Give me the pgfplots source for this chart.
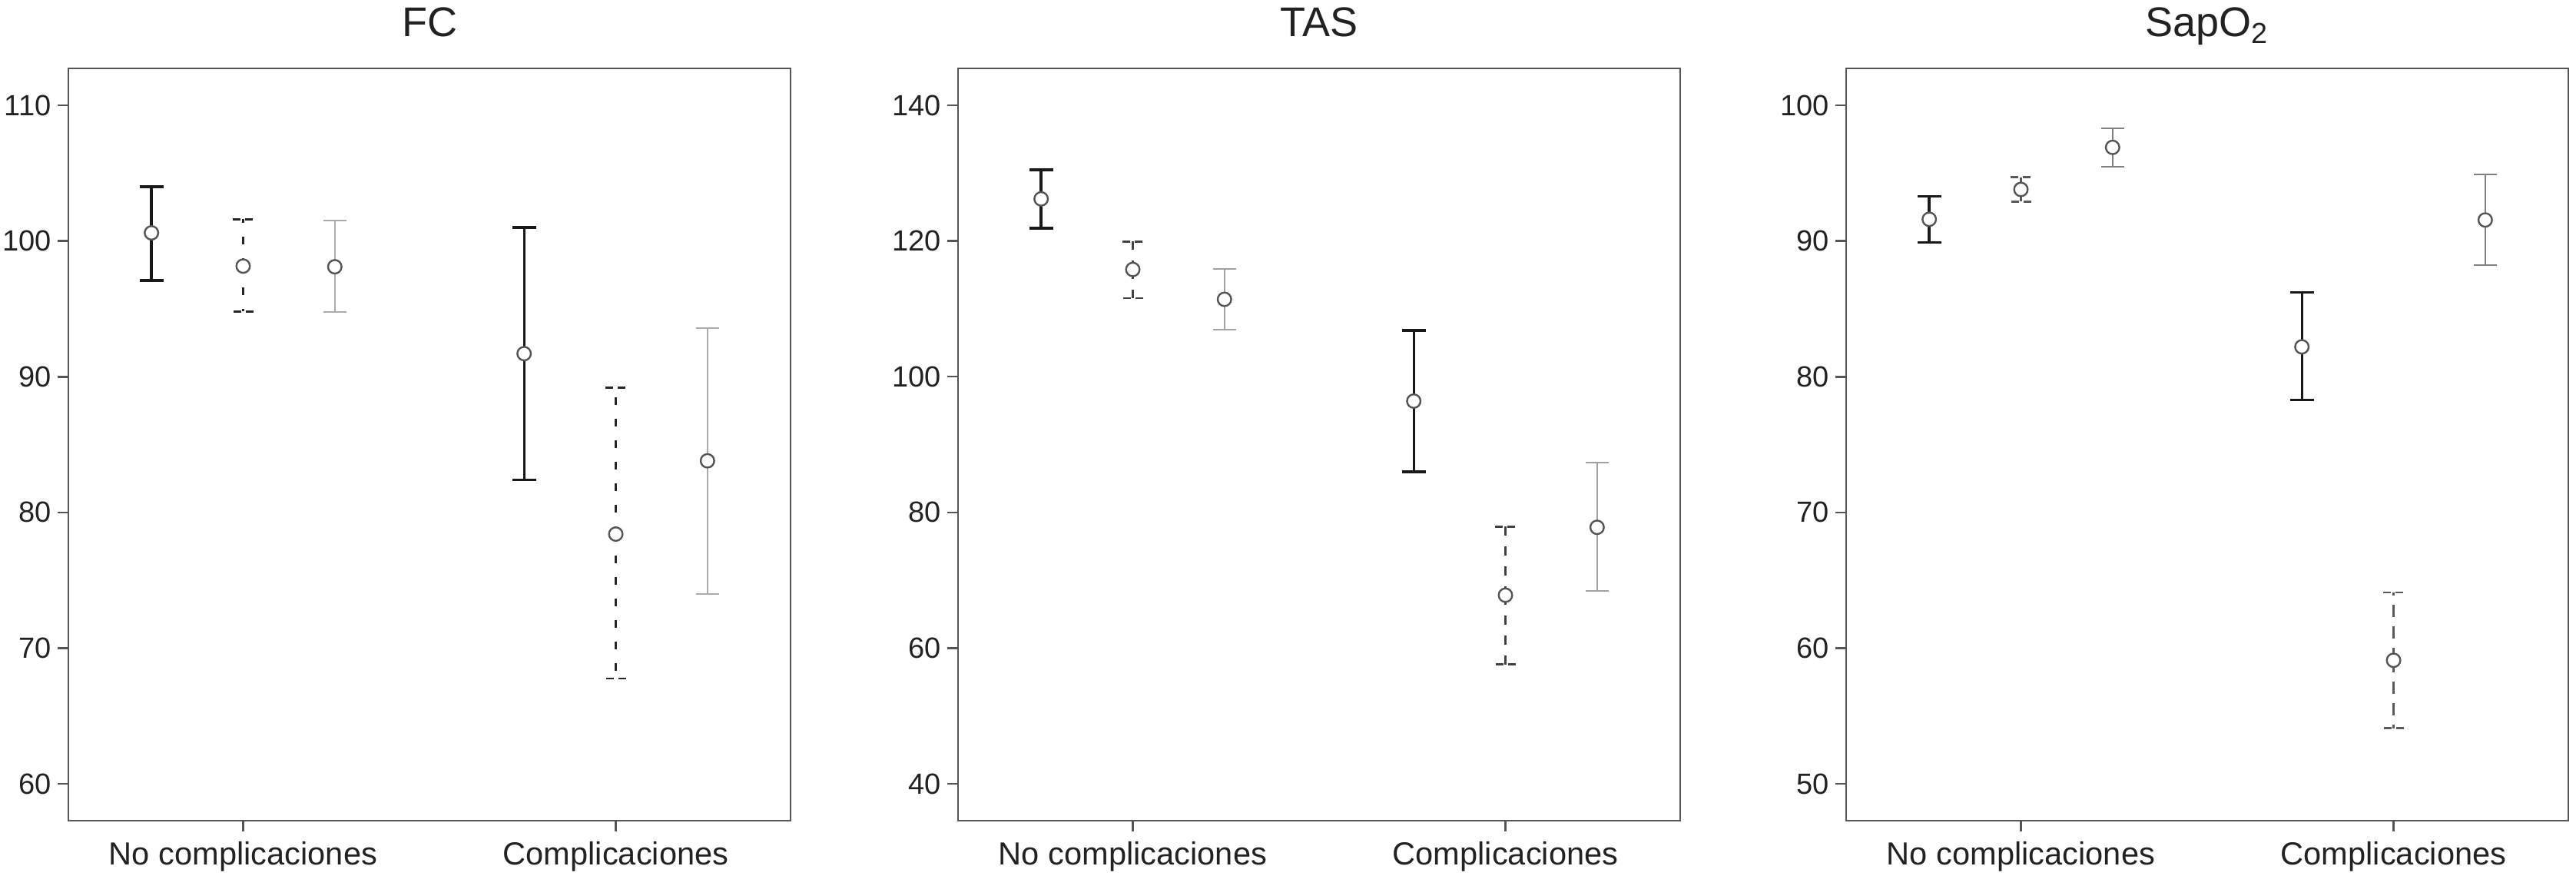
\documentclass[border=0pt]{standalone}
\usepackage{fontspec}
\setmainfont{Liberation Sans}
\usepackage{pgfplots}
\pgfplotsset{compat=1.18}

\definecolor{axisgray}{HTML}{555555}
\definecolor{txt}{HTML}{222222}

\pgfplotsset{
  panel/.style={
    scale only axis,
    width=235pt, height=244.75pt,
    xmin=-0.469, xmax=1.469,
    xtick={0,1},
    xticklabels={No complicaciones, Complicaciones},
    tick align=outside,
    major tick length=3.4pt,
    xtick pos=bottom, ytick pos=left,
    axis line style={draw=axisgray, line width=0.65pt},
    tick style={draw=axisgray, line width=0.65pt},
    xticklabel style={font=\fontsize{10.4}{12}\selectfont, text=txt},
    yticklabel style={font=\fontsize{9.5}{11}\selectfont, text=txt, xshift=1.3pt},
    /pgf/number format/assume math mode=true,
    every axis title shift=0pt,
    title style={at={(0.5,1)}, anchor=base, yshift=10.4pt,
                 font=\fontsize{13.5}{15}\selectfont, text=txt},
    clip=false,
  },
  meanmark/.style={only marks, mark=*,
    mark options={solid, fill=white, draw=axisgray, line width=0.6pt, mark size=2.2pt}},
  s1/.style={meanmark,
    error bars/.cd, y dir=both, y explicit,
    error bar style={draw=#1, line width=0.85pt},
    error mark options={rotate=90, draw=#1, line width=0.85pt, mark size=3.85pt}},
  s2/.style 2 args={meanmark,
    error bars/.cd, y dir=both, y explicit,
    error bar style={draw=#1, line width=0.6pt, dash pattern=#2},
    error mark options={rotate=90, draw=#1, line width=0.6pt, mark size=3.4pt, dash pattern=on 2.6pt off 1.4pt}},
  s3/.style={meanmark,
    error bars/.cd, y dir=both, y explicit,
    error bar style={draw=#1, line width=0.5pt},
    error mark options={rotate=90, draw=#1, line width=0.5pt, mark size=3.75pt}},
}

\begin{document}
\begin{tikzpicture}
\path[use as bounding box] (0,0) rectangle (838.25pt,284.75pt);

% FC
\begin{axis}[panel, at={(22.25pt,17.75pt)}, anchor=south west,
  title={FC}, ymin=57.28, ymax=112.72, ytick={60,70,80,90,100,110}]
\addplot+[s1=black!90] coordinates {
  (-0.246,100.6) += (0,3.4) -= (0,3.5)
  (0.754,91.7) += (0,9.3) -= (0,9.3)};
\addplot+[s2={black!85}{on 2.5pt off 4.5pt}] coordinates {
  (0,98.15) += (0,3.45) -= (0,3.35)
  (1,78.4) += (0,10.8) -= (0,10.65)};
\addplot+[s3=black!33] coordinates {
  (0.246,98.1) += (0,3.4) -= (0,3.35)
  (1.246,83.8) += (0,9.8) -= (0,9.8)};
\end{axis}

% TAS
\begin{axis}[panel, at={(311.75pt,17.75pt)}, anchor=south west,
  title={TAS}, ymin=34.57, ymax=145.43, ytick={40,60,80,100,120,140}]
\addplot+[s1=black!90] coordinates {
  (-0.246,126.2) += (0,4.3) -= (0,4.3)
  (0.754,96.4) += (0,10.4) -= (0,10.4)};
\addplot+[s2={black!75}{on 3pt off 3.5pt}] coordinates {
  (0,115.8) += (0,4.1) -= (0,4.2)
  (1,67.8) += (0,10.1) -= (0,10.2)};
\addplot+[s3=black!37] coordinates {
  (0.246,111.4) += (0,4.5) -= (0,4.5)
  (1.246,77.8) += (0,9.5) -= (0,9.4)};
\end{axis}

% SapO2
\begin{axis}[panel, at={(600.75pt,17.75pt)}, anchor=south west,
  title={SapO\textsubscript{2}}, ymin=47.28, ymax=102.72, ytick={50,60,70,80,90,100}]
\addplot+[s1=black!90] coordinates {
  (-0.246,91.6) += (0,1.7) -= (0,1.7)
  (0.754,82.2) += (0,4.0) -= (0,3.9)};
\addplot+[s2={black!65}{on 4pt off 3pt}] coordinates {
  (0,93.8) += (0,0.9) -= (0,0.9)
  (1,59.1) += (0,5.0) -= (0,5.0)};
\addplot+[s3=black!50] coordinates {
  (0.246,96.9) += (0,1.4) -= (0,1.4)
  (1.246,91.55) += (0,3.35) -= (0,3.35)};
\end{axis}
\end{tikzpicture}
\end{document}
